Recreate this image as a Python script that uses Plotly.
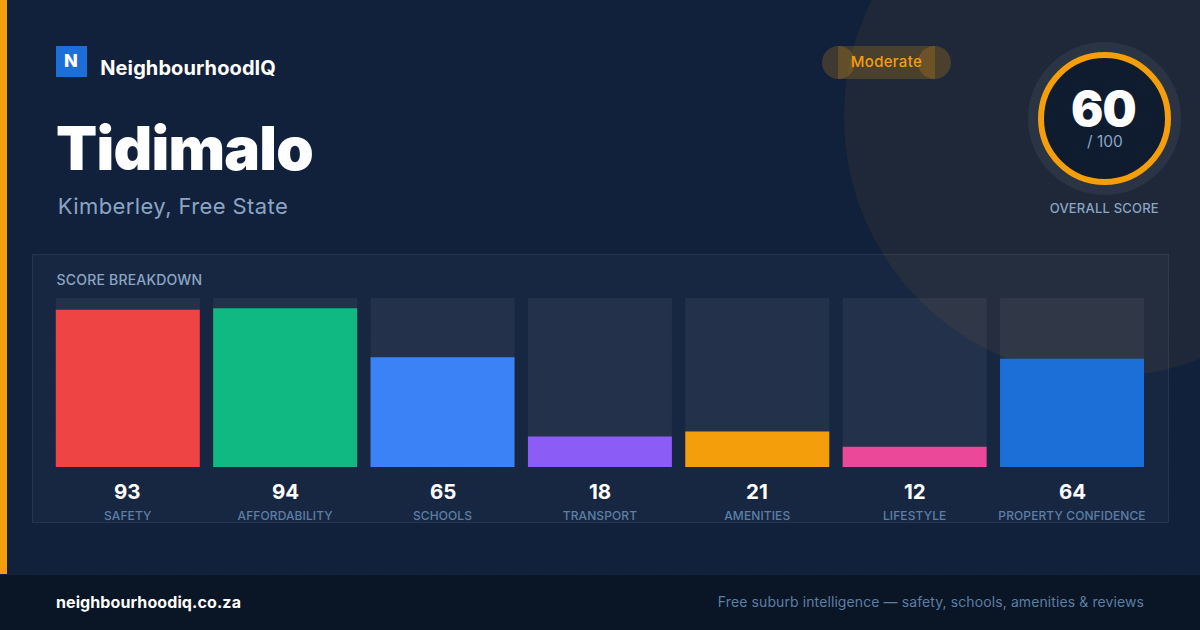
# NeighbourhoodIQ share card: suburb score breakdown
import json
import plotly.graph_objects as go

CATEGORIES = ["SAFETY", "AFFORDABILITY", "SCHOOLS", "TRANSPORT", "AMENITIES", "LIFESTYLE", "PROPERTY CONFIDENCE"]
SCORES = [93, 94, 65, 18, 21, 12, 64]
BAR_COLORS = ["#ef4444", "#10b981", "#3b82f6", "#8b5cf6", "#f59e0b", "#ec4899", "#1d6fd8"]
TRACK = [100] * len(CATEGORIES)

W, H = 1200, 630
FONT = "Inter"

# plotly has no letter-spacing option, so it is set on the text after drawing
SPACING = {
	"Tidimalo": -0.75,
	"60": -1,
	"Kimberley, Free State": 0.4,
	"NeighbourhoodIQ": 0.1,
	"Moderate": 0.3,
	"OVERALL SCORE": 0.2,
	"SCORE BREAKDOWN": 0.2,
	"neighbourhoodiq.co.za": 0.1,
	"Free suburb intelligence \u2014 safety, schools, amenities & reviews": 0.1,
}
for cat in CATEGORIES:
	SPACING[cat] = 0.1

def px(x):
	return x / W

def py(y):
	return 1 - y / H

def rect(x0, y0, x1, y1, fill, line=None, layer="below"):
	return dict(type="rect", xref="paper", yref="paper", x0=px(x0), x1=px(x1), y0=py(y0), y1=py(y1),
		fillcolor=fill, line=dict(color=line or "rgba(0,0,0,0)", width=1 if line else 0), layer=layer)

def circle(cx, cy, r, fill, line=None, lw=0, layer="below"):
	return dict(type="circle", xref="paper", yref="paper", x0=px(cx-r), x1=px(cx+r), y0=py(cy+r), y1=py(cy-r),
		fillcolor=fill, line=dict(color=line or "rgba(0,0,0,0)", width=lw), layer=layer)

def label(text, x, y, size, color, weight=400, anchor="left"):
	return dict(text=text, x=px(x), y=py(y), xref="paper", yref="paper", showarrow=False, xanchor=anchor,
		yanchor="middle", font=dict(family=FONT, size=size, color=color, weight=weight))

fig = go.Figure()

# faint dot grid, on the base axes so the bars cover it
dots_x = [24 + 32 * i for i in range(37) for j in range(18)]
dots_y = [24 + 32 * j for i in range(37) for j in range(18)]
fig.add_trace(go.Scatter(x=dots_x, y=dots_y, mode="markers",
	marker=dict(size=2, color="rgba(255,255,255,0.04)"), hoverinfo="skip"))

# background tracks, then the scores on top
fig.add_trace(go.Bar(x=CATEGORIES, y=TRACK, xaxis="x2", yaxis="y2",
	marker=dict(color="rgba(255,255,255,0.05)", line_width=0), width=0.915, hoverinfo="skip"))
fig.add_trace(go.Bar(x=CATEGORIES, y=SCORES, xaxis="x2", yaxis="y2",
	marker=dict(color=BAR_COLORS, line_width=0), width=0.915))

shapes = [
	circle(1104, 117, 260, "rgba(245,158,11,0.06)"),
	rect(0, 0, 7, H, "#f59e0b"),
	rect(0, 574, W, H, "#0a1525"),
	rect(0, 574, W, 575, "#16233a"),
	rect(32.5, 254.5, 1168.5, 522.5, "rgba(255,255,255,0.03)", "rgba(255,255,255,0.08)"),
	rect(56, 46, 87, 77, "#1d6fd8"),
	# pill: the end caps overlap the middle, as in the original card
	rect(838, 46, 935, 79, "rgba(245,158,11,0.2)"),
	circle(838.5, 62.5, 16.5, "rgba(245,158,11,0.2)"),
	circle(934.5, 62.5, 16.5, "rgba(245,158,11,0.2)"),
	circle(1104.5, 118.5, 76.5, "rgba(255,255,255,0.06)"),
	circle(1104.5, 118.5, 63.5, "#0f1c30", "#f59e0b", 6),
]

annotations = [
	label("N", 71, 60.5, 18, "#ffffff", 800, "center"),
	label("NeighbourhoodIQ", 98.5, 68, 20, "#ffffff", 700),
	label("Tidimalo", 51, 147.5, 60, "#ffffff", 900),
	label("Kimberley, Free State", 60, 206, 22, "#8ba5c4"),
	label("Moderate", 886.5, 61.5, 15, "#f59e0b", 500, "center"),
	label("60", 1103.5, 108, 48, "#ffffff", 900, "center"),
	label("/ 100", 1104.5, 141, 15.5, "#8ba5c4", 400, "center"),
	label("OVERALL SCORE", 1104.5, 208, 13, "#8ba5c4", 500, "center"),
	label("SCORE BREAKDOWN", 56, 279.5, 14, "#8ba5c4", 500),
	label("neighbourhoodiq.co.za", 55, 602, 16, "#ffffff", 700),
	label("Free suburb intelligence \u2014 safety, schools, amenities &amp; reviews", 1142.5, 601.5, 14, "#5b7fa6", 400, "right"),
]
for cat, score in zip(CATEGORIES, SCORES):
	annotations.append(dict(text=str(score), x=cat, y=py(491), xref="x2", yref="paper", showarrow=False,
		yanchor="middle", font=dict(family=FONT, size=20.5, color="#ffffff", weight=700)))

fig.update_layout(
	width=W, height=H, barmode="overlay", showlegend=False, hovermode=False,
	margin=dict(l=0, r=0, t=0, b=0),
	paper_bgcolor="#11213b", plot_bgcolor="rgba(0,0,0,0)",
	shapes=shapes, annotations=annotations,
	font=dict(family=FONT),
	xaxis=dict(domain=[0, 1], range=[0, W], visible=False),
	yaxis=dict(domain=[0, 1], range=[H, 0], visible=False),
	xaxis2=dict(domain=[px(49.115), px(1150.705)], range=[-0.5, 6.5], anchor="y2", showgrid=False, zeroline=False,
		showline=False, ticks="", ticklabelstandoff=40,
		tickfont=dict(family=FONT, size=12, color="#5b7fa6", weight=500)),
	yaxis2=dict(domain=[py(467), py(298)], range=[0, 100], anchor="x2", visible=False),
)

post = """
document.body.style.margin = '0';
var spacing = %s;
document.querySelectorAll('.annotation-text, .xtick text, .x2tick text').forEach(function (t) {
	var s = spacing[t.textContent];
	if (s) { t.style.letterSpacing = s + 'px'; }
});
""" % json.dumps(SPACING)

fig.write_html("out.html", post_script=post, config=dict(displayModeBar=False))
